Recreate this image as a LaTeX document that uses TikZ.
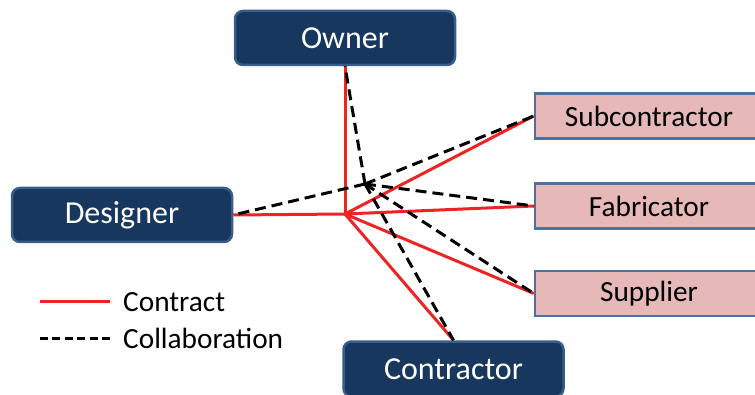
\documentclass[tikz,border=0pt]{standalone}
\usepackage{fontspec}
\setmainfont{Carlito}
\definecolor{navyfill}{HTML}{17375E}
\definecolor{navyedge}{HTML}{385D8A}
\definecolor{pinkfill}{HTML}{E6B9B8}
\definecolor{pinkedge}{HTML}{4A72A0}
\definecolor{contractred}{HTML}{EE2424}
\tikzset{
  party/.style={draw=navyedge, fill=navyfill, line width=2.5pt, rounded corners=8pt,
    minimum width=220pt, minimum height=54pt, inner sep=0pt, text=white,
    font=\fontsize{32}{32}\selectfont},
  trade/.style={draw=pinkedge, fill=pinkfill, line width=2.5pt,
    minimum width=228pt, minimum height=45pt, inner sep=0pt, text=black,
    font=\fontsize{29.3}{29.3}\selectfont},
  contract/.style={draw=contractred, line width=3pt},
  collab/.style={draw=black, line width=3pt, dash pattern=on 11pt off 6pt},
  legendtext/.style={anchor=west, inner sep=0pt, font=\fontsize{29.3}{29.3}\selectfont}
}
\begin{document}
\begin{tikzpicture}[x=1pt, y=-1pt]
  \useasboundingbox (0,0) rectangle (755,395);

  % parties
  \node[party] (owner) at (345,38) {Owner};
  \node[party] (designer) at (122,215) {Designer};
  \node[party, minimum height=55pt] (contractor) at (453.5,369) {Contractor};

  % trades on the right
  \node[trade] (sub) at (649,116) {Subcontractor};
  \node[trade] (fab) at (649,206) {Fabricator};
  \node[trade] (sup) at (649,293.5) {Supplier};

  % junction points
  \coordinate (rhub) at (345,214);
  \coordinate (bhub) at (365,184);

  % contract relations
  \foreach \n in {owner.south, designer.east, sub.west, fab.west, sup.west, contractor.north}
    \draw[contract] (rhub) -- (\n);

  % collaboration relations
  \foreach \n in {owner.south, designer.east, sub.west, fab.west, sup.west, contractor.north}
    \draw[collab] (bhub) -- (\n);

  % legend
  \coordinate (lca) at (40,302);
  \coordinate (lcb) at (110,302);
  \coordinate (lda) at (40,338);
  \coordinate (ldb) at (110,338);
  \draw[contract] (lca) -- (lcb);
  \draw[collab, dash pattern=on 8pt off 4.4pt] (lda) -- (ldb);
  \node[legendtext] (lcontract) at (123,302) {Contract};
  \node[legendtext] (lcollab) at (123,338) {Collaboration};
\end{tikzpicture}
\end{document}
